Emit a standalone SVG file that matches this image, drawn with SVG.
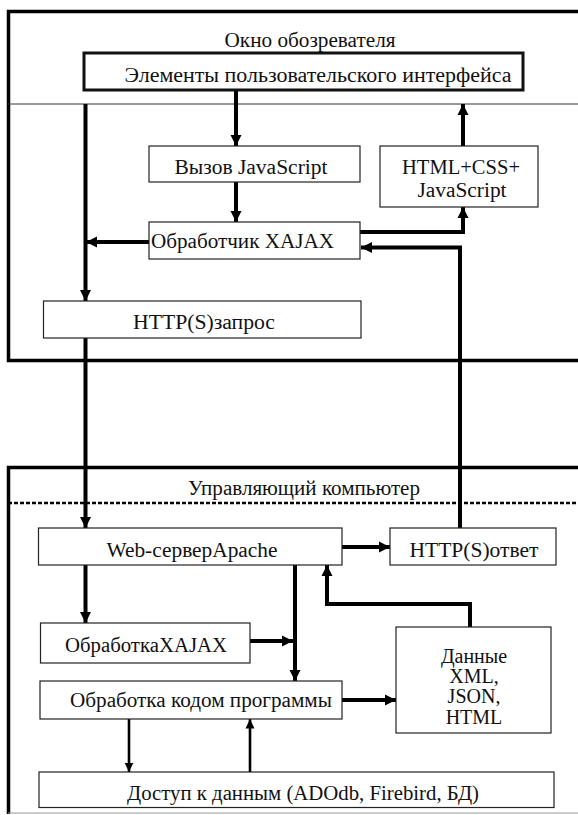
<svg xmlns="http://www.w3.org/2000/svg" width="578" height="815" viewBox="0 0 578 815">
<style>
text{font-size:20px;fill:#111}
.box{fill:#fff;stroke:#222;stroke-width:1.2}
.ui{fill:#fff;stroke:#111;stroke-width:3}
.frame{fill:none;stroke:#000;stroke-width:3.5}
.c{fill:none;stroke:#000;stroke-width:4}
.t{fill:none;stroke:#000;stroke-width:2.6}
</style>
<defs>
<marker id="a" markerUnits="userSpaceOnUse" markerWidth="12" markerHeight="12" viewBox="0 0 12 12" refX="11" refY="6" orient="auto">
<path d="M0,0.5 L11,6 L0,11.5 Z" fill="#000"/>
</marker>
<marker id="s" markerUnits="userSpaceOnUse" markerWidth="10" markerHeight="10" viewBox="0 0 10 10" refX="9.5" refY="5" orient="auto">
<path d="M0,0.5 L9.5,5 L0,9.5 Z" fill="#000"/>
</marker>
</defs>
<rect width="578" height="815" fill="#fff"/>
<g font-family="'Liberation Serif', 'DejaVu Serif', serif">
<g id="browser-frame">
<path class="frame" d="M600,11.5 H8.5 V360.5 H600"/>
<line x1="8" y1="104" x2="578" y2="104" stroke="#333" stroke-width="1"/>
<text x="310" y="47" text-anchor="middle" textLength="171" lengthAdjust="spacingAndGlyphs">Окно обозревателя</text>
</g>
<g id="server-frame">
<path class="frame" d="M600,467.5 H8.5 V814"/>
<line x1="8" y1="813" x2="578" y2="813" stroke="#999" stroke-width="1"/>
<text x="304" y="495" text-anchor="middle" textLength="232" lengthAdjust="spacingAndGlyphs">Управляющий компьютер</text>
<line x1="8" y1="503" x2="578" y2="503" stroke="#000" stroke-width="2.5" stroke-dasharray="4 2"/>
</g>
<g id="connectors">
<line class="c" x1="85.5" y1="104" x2="85.5" y2="301" marker-end="url(#a)"/>
<line class="c" x1="236" y1="90" x2="236" y2="146" marker-end="url(#a)"/>
<line class="c" x1="463" y1="146" x2="463" y2="104" marker-end="url(#a)"/>
<line class="c" x1="236" y1="182" x2="236" y2="222" marker-end="url(#a)"/>
<line class="c" x1="149" y1="242" x2="86" y2="242" marker-end="url(#a)"/>
<path class="c" d="M360,232 H463 V207" marker-end="url(#a)"/>
<path class="c" d="M460,528 V247.5 H361" marker-end="url(#a)"/>
<line class="c" x1="85.5" y1="338" x2="85.5" y2="528" marker-end="url(#a)"/>
<line class="c" x1="342" y1="547" x2="390" y2="547" marker-end="url(#a)"/>
<line class="c" x1="85.5" y1="565" x2="85.5" y2="623" marker-end="url(#a)"/>
<line class="c" x1="295" y1="565" x2="295" y2="681" marker-end="url(#a)"/>
<line class="c" x1="250" y1="641" x2="293" y2="641" marker-end="url(#a)"/>
<path class="c" d="M470,627 V604 H327 V565" marker-end="url(#a)"/>
<line class="c" x1="342" y1="700" x2="396" y2="700" marker-end="url(#a)"/>
<line class="t" x1="129" y1="719" x2="129" y2="772" marker-end="url(#s)"/>
<line class="t" x1="250" y1="772" x2="250" y2="719" marker-end="url(#s)"/>
</g>
<g id="ui-elements">
<rect class="ui" x="84" y="53" width="439" height="37"/>
<text x="318" y="82" text-anchor="middle" textLength="387" lengthAdjust="spacingAndGlyphs">Элементы пользовательского интерфейса</text>
</g>
<g id="js-call">
<rect class="box" x="149" y="146" width="211" height="36"/>
<text x="251" y="174" text-anchor="middle" textLength="153" lengthAdjust="spacingAndGlyphs">Вызов JavaScript</text>
</g>
<g id="html-css-js">
<rect class="box" x="380" y="146" width="158" height="61"/>
<text x="461" y="174" text-anchor="middle" textLength="118" lengthAdjust="spacingAndGlyphs">HTML+CSS+</text>
<text x="462" y="197" text-anchor="middle" textLength="89" lengthAdjust="spacingAndGlyphs">JavaScript</text>
</g>
<g id="xajax-handler">
<rect class="box" x="149" y="222" width="211" height="37"/>
<text x="151" y="248" textLength="183" lengthAdjust="spacingAndGlyphs">Обработчик XAJAX</text>
</g>
<g id="http-request">
<rect class="box" x="43.5" y="301" width="317.5" height="37"/>
<text x="204" y="329" text-anchor="middle" textLength="142" lengthAdjust="spacingAndGlyphs">HTTP(S)запрос</text>
</g>
<g id="web-server">
<rect class="box" x="38.5" y="528" width="303.5" height="37"/>
<text x="192" y="557" text-anchor="middle" textLength="171" lengthAdjust="spacingAndGlyphs">Web-серверApache</text>
</g>
<g id="http-response">
<rect class="box" x="390" y="528" width="166" height="37"/>
<text x="474" y="557" text-anchor="middle" textLength="129" lengthAdjust="spacingAndGlyphs">HTTP(S)ответ</text>
</g>
<g id="xajax-processing">
<rect class="box" x="40.5" y="623" width="209.5" height="40"/>
<text x="146" y="652" text-anchor="middle" textLength="162" lengthAdjust="spacingAndGlyphs">ОбработкаXAJAX</text>
</g>
<g id="data">
<rect class="box" x="396" y="627" width="155" height="106"/>
<text x="474" y="663" text-anchor="middle">Данные</text>
<text x="474" y="683" text-anchor="middle">XML,</text>
<text x="474" y="703" text-anchor="middle">JSON,</text>
<text x="474" y="724" text-anchor="middle">HTML</text>
</g>
<g id="program-processing">
<rect class="box" x="40" y="681" width="302" height="38"/>
<text x="201" y="707" text-anchor="middle" textLength="262" lengthAdjust="spacingAndGlyphs">Обработка кодом программы</text>
</g>
<g id="data-access">
<rect class="box" x="39" y="772" width="515" height="35.5"/>
<text x="303" y="800" text-anchor="middle" textLength="352" lengthAdjust="spacingAndGlyphs">Доступ к данным (ADOdb, Firebird, БД)</text>
</g>
</g>
</svg>
